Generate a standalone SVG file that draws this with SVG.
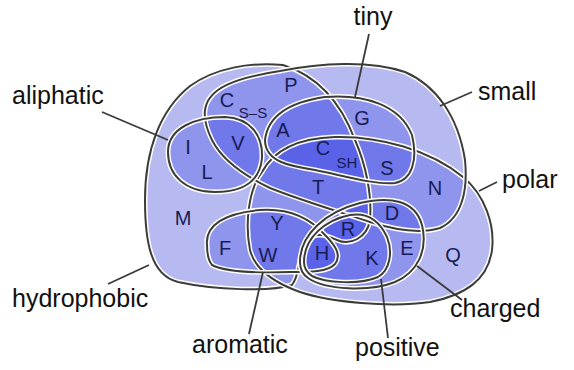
<svg xmlns="http://www.w3.org/2000/svg" xmlns:xlink="http://www.w3.org/1999/xlink" width="574" height="370" viewBox="0 0 574 370">
<style>
.base{fill:#ececf4}
.layer{fill:#1923e4;fill-opacity:.25}
.halo{fill:none;stroke:#fff;stroke-width:5}
.edge{fill:none;stroke:#3c3c3a;stroke-width:2}
.lead{stroke:#3a3a3a;stroke-width:1.8;fill:none}
.aa{font-family:"Liberation Sans",Arial,sans-serif;font-size:20px;fill:#181c55;text-anchor:middle}
.sub{font-size:15px}
.lbl{font-family:"Liberation Sans",Arial,sans-serif;font-size:25px;fill:#111}
</style>
<defs>
<path id="p-hyd" d="M283,65 C315,75 340,100 355,140 C366,165 372,195 370,220 C367,238 350,246 337,240 C322,233 312,232 305,245 C298,258 300,275 292,285 C270,292 215,290 178,282 C150,275 145,240 145,200 C145,150 160,110 190,86 C215,68 250,62 283,65 Z"/>
<path id="p-small" d="M205,110 C208,88 235,78 280,71 C320,63 370,60 405,72 C435,85 458,115 465,160 C468,190 462,218 440,228 C420,234 395,230 370,222 C340,212 300,200 270,188 C245,176 222,160 212,140 C206,128 204,118 205,110 Z"/>
<path id="p-polar" d="M262,172 C275,148 300,138 335,137 C380,136 430,150 463,177 C485,195 495,225 492,250 C488,280 465,295 430,302 C390,308 330,302 300,292 C275,283 255,270 250,250 C245,225 248,190 262,172 Z"/>
<path id="p-tiny" d="M265,140 C268,115 290,102 325,97 C365,94 400,105 412,135 C418,160 412,180 395,183 C375,185 345,176 315,170 C290,166 265,162 265,140 Z"/>
<path id="p-ali" d="M168,152 C168,128 195,117 225,117 C250,118 263,135 262,158 C260,180 245,192 215,192 C185,192 168,175 168,152 Z"/>
<path id="p-aro" d="M207,245 C205,225 225,213 260,210 C290,208 310,218 325,235 C335,245 342,255 335,264 C328,272 310,272 290,272 C260,273 225,272 212,265 C208,260 207,252 207,245 Z"/>
<path id="p-chg" d="M300,262 C300,235 325,212 360,203 C390,196 415,200 422,225 C428,250 418,272 395,282 C370,292 325,290 308,278 C302,274 300,268 300,262 Z"/>
<path id="p-pos" d="M304,262 C304,238 325,220 350,215 C368,212 380,222 387,237 C393,252 390,270 378,277 C360,285 325,283 312,276 C306,272 304,268 304,262 Z"/>
</defs>
<rect width="574" height="370" fill="#fff"/>
<g id="union-base">
<use xlink:href="#p-hyd" class="base"/>
<use xlink:href="#p-small" class="base"/>
<use xlink:href="#p-polar" class="base"/>
</g>
<g id="set-hydrophobic"><use xlink:href="#p-hyd" class="layer"/></g>
<g id="set-polar"><use xlink:href="#p-polar" class="layer"/></g>
<g id="set-small"><use xlink:href="#p-small" class="layer"/></g>
<g id="set-tiny"><use xlink:href="#p-tiny" class="layer"/></g>
<g id="set-aliphatic"><use xlink:href="#p-ali" class="layer"/></g>
<g id="set-aromatic"><use xlink:href="#p-aro" class="layer"/></g>
<g id="set-charged"><use xlink:href="#p-chg" class="layer"/></g>
<g id="set-positive"><use xlink:href="#p-pos" class="layer"/></g>
<g id="outlines">
<use xlink:href="#p-hyd" class="halo"/><use xlink:href="#p-hyd" class="edge"/>
<use xlink:href="#p-polar" class="halo"/><use xlink:href="#p-polar" class="edge"/>
<use xlink:href="#p-small" class="halo"/><use xlink:href="#p-small" class="edge"/>
<use xlink:href="#p-tiny" class="halo"/><use xlink:href="#p-tiny" class="edge"/>
<use xlink:href="#p-ali" class="halo"/><use xlink:href="#p-ali" class="edge"/>
<use xlink:href="#p-aro" class="halo"/><use xlink:href="#p-aro" class="edge"/>
<use xlink:href="#p-chg" class="halo"/><use xlink:href="#p-chg" class="edge"/>
<use xlink:href="#p-pos" class="halo"/><use xlink:href="#p-pos" class="edge"/>
</g>
<g id="connectors">
<path class="lead" d="M102,112 L168,140"/>
<path class="lead" d="M369,34 L355,97"/>
<path class="lead" d="M472,92 L440,106"/>
<path class="lead" d="M497,182 L479,191"/>
<path class="lead" d="M108,284 L149,265"/>
<path class="lead" d="M417,266 L462,300"/>
<path class="lead" d="M263,272 L249,334"/>
<path class="lead" d="M381,279 L388,338"/>
</g>
<g id="set-labels">
<text class="lbl" x="12" y="104">aliphatic</text>
<text class="lbl" x="373" y="25" text-anchor="middle">tiny</text>
<text class="lbl" x="478" y="100">small</text>
<text class="lbl" x="502" y="188">polar</text>
<text class="lbl" x="12" y="307">hydrophobic</text>
<text class="lbl" x="450" y="317">charged</text>
<text class="lbl" x="192" y="353">aromatic</text>
<text class="lbl" x="355" y="356">positive</text>
</g>
<g id="aa-P"><text class="aa" x="291" y="92">P</text></g>
<g id="aa-Css"><text class="aa" x="227" y="107">C</text><text class="aa sub" x="253" y="118">S–S</text></g>
<g id="aa-A"><text class="aa" x="283" y="137">A</text></g>
<g id="aa-G"><text class="aa" x="362" y="125">G</text></g>
<g id="aa-I"><text class="aa" x="188" y="154">I</text></g>
<g id="aa-V"><text class="aa" x="238" y="150">V</text></g>
<g id="aa-L"><text class="aa" x="207" y="179">L</text></g>
<g id="aa-Csh"><text class="aa" x="323" y="155">C</text><text class="aa sub" x="347" y="168">SH</text></g>
<g id="aa-S"><text class="aa" x="387" y="175">S</text></g>
<g id="aa-T"><text class="aa" x="318" y="194">T</text></g>
<g id="aa-N"><text class="aa" x="435" y="195">N</text></g>
<g id="aa-M"><text class="aa" x="183" y="225">M</text></g>
<g id="aa-D"><text class="aa" x="392" y="220">D</text></g>
<g id="aa-Y"><text class="aa" x="277" y="230">Y</text></g>
<g id="aa-F"><text class="aa" x="225" y="255">F</text></g>
<g id="aa-W"><text class="aa" x="268" y="262">W</text></g>
<g id="aa-R"><text class="aa" x="348" y="236">R</text></g>
<g id="aa-H"><text class="aa" x="322" y="260">H</text></g>
<g id="aa-K"><text class="aa" x="372" y="265">K</text></g>
<g id="aa-E"><text class="aa" x="407" y="255">E</text></g>
<g id="aa-Q"><text class="aa" x="453" y="262">Q</text></g>
</svg>
